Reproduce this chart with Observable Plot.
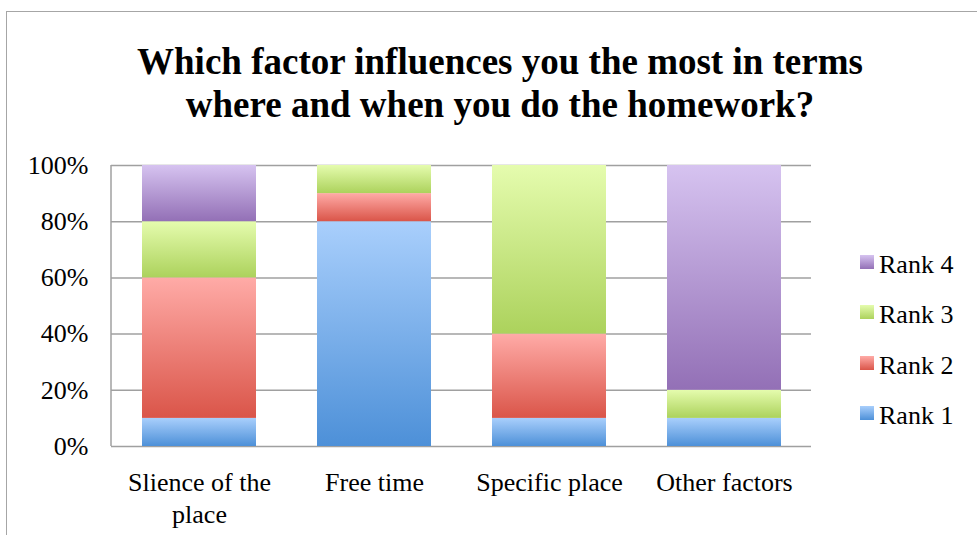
<!DOCTYPE html>
<html>
<head>
<meta charset="utf-8">
<script src="https://cdn.jsdelivr.net/npm/d3@7"></script>
<script src="https://cdn.jsdelivr.net/npm/@observablehq/plot@0.6"></script>
<style>
  html, body { margin: 0; padding: 0; background: #fff; overflow: hidden; }
  #wrap { position: relative; width: 977px; height: 535px; font-family: "Liberation Serif", Tinos, "Times New Roman", Times, "Nimbus Roman", "DejaVu Serif", serif; color: #000; }
  #border { position: absolute; left: 6px; top: 11px; width: 2000px; height: 2000px; border-left: 1.5px solid #a6a6a6; border-top: 1.5px solid #a6a6a6; }
  #title { position: absolute; left: 23px; width: 954px; top: 40px; text-align: center; font-weight: bold; font-size: 37px; line-height: 43px; }
  #chart { position: absolute; left: 0; top: 0; }
  #chart svg text { font-family: "Liberation Serif", Tinos, "Times New Roman", Times, "Nimbus Roman", "DejaVu Serif", serif; }
  .sw { position: absolute; width: 14px; height: 14px; left: 860px; }
  .lt { position: absolute; left: 879px; font-size: 26px; line-height: 26px; white-space: nowrap; }
  #defs { position: absolute; width: 0; height: 0; }
</style>
</head>
<body>
<div id="wrap">
  <svg id="defs" width="0" height="0">
    <defs>
      <linearGradient id="g1" x1="0" y1="0" x2="0" y2="1"><stop offset="0" stop-color="#a9cffc"/><stop offset="1" stop-color="#4d90d8"/></linearGradient>
      <linearGradient id="g2" x1="0" y1="0" x2="0" y2="1"><stop offset="0" stop-color="#ffaba7"/><stop offset="1" stop-color="#da5549"/></linearGradient>
      <linearGradient id="g3" x1="0" y1="0" x2="0" y2="1"><stop offset="0" stop-color="#e5fcae"/><stop offset="1" stop-color="#acd25c"/></linearGradient>
      <linearGradient id="g4" x1="0" y1="0" x2="0" y2="1"><stop offset="0" stop-color="#d6c3f0"/><stop offset="1" stop-color="#9370b6"/></linearGradient>
    </defs>
  </svg>
  <div id="border"></div>
  <div id="chart"></div>
  <div id="title">Which factor influences you the most in terms<br>where and when you do the homework?</div>
  <div id="legend"></div>
</div>
<script>
const categories = ["Slience of the place", "Free time", "Specific place", "Other factors"];
const categoryLabels = ["Slience of the\nplace", "Free time", "Specific place", "Other factors"];
const ranks = ["Rank 1", "Rank 2", "Rank 3", "Rank 4"];
const rank1 = [10, 80, 10, 10];
const rank2 = [50, 10, 30, 0];
const rank3 = [20, 10, 60, 10];
const rank4 = [20, 0, 0, 80];
const yTicks = [0, 20, 40, 60, 80, 100];
const fills = ["url(#g1)", "url(#g2)", "url(#g3)", "url(#g4)"];

const series = [rank1, rank2, rank3, rank4];
const data = [];
ranks.forEach((r, i) => categories.forEach((c, j) => data.push({category: c, rank: r, value: series[i][j]})));

const leftLine = (index, scales, values, dims) => {
  const g = document.createElementNS("http://www.w3.org/2000/svg", "line");
  g.setAttribute("x1", dims.marginLeft);
  g.setAttribute("x2", dims.marginLeft);
  g.setAttribute("y1", dims.marginTop);
  g.setAttribute("y2", dims.height - dims.marginBottom);
  g.setAttribute("stroke", "#a0a0a0");
  g.setAttribute("stroke-width", 1.5);
  return g;
};

const chart = Plot.plot({
  width: 977,
  height: 535,
  marginLeft: 111,
  marginRight: 166,
  marginTop: 165,
  marginBottom: 89,
  style: {fontFamily: "'Liberation Serif', Tinos, 'Times New Roman', Times, 'DejaVu Serif', serif", fontSize: "26px", color: "#000", background: "transparent", overflow: "visible"},
  x: {domain: categories, paddingInner: 0.35, paddingOuter: 0.175, label: null},
  y: {domain: [0, 100], label: null},
  color: {domain: ranks, range: fills},
  marks: [
    Plot.ruleY(yTicks, {stroke: "#a0a0a0", strokeWidth: 1.5}),
    leftLine,
    Plot.barY(data, Plot.stackY({x: "category", y: "value", fill: "rank", inset: 0, order: null,
      style: "filter: drop-shadow(1px 0px 2px rgba(0,0,0,0.25))"})),
    Plot.axisY({ticks: yTicks, tickFormat: d => d + "%", tickSize: 0, tickPadding: 23, fontSize: 26, label: null}),
    Plot.axisX({tickSize: 0, tickPadding: 22, fontSize: 26, lineHeight: 1.23, label: null,
      tickFormat: d => categoryLabels[categories.indexOf(d)]})
  ]
});
document.getElementById("chart").appendChild(chart);

const legendTops = {"Rank 4": 255, "Rank 3": 305, "Rank 2": 356, "Rank 1": 406};
const legend = document.getElementById("legend");
ranks.slice().reverse().forEach(r => {
  const i = ranks.indexOf(r);
  const sw = document.createElement("div");
  sw.className = "sw";
  sw.style.top = legendTops[r] + "px";
  const stops = document.querySelectorAll("#g" + (i + 1) + " stop");
  sw.style.background = `linear-gradient(${stops[0].getAttribute("stop-color")}, ${stops[1].getAttribute("stop-color")})`;
  legend.appendChild(sw);
  const t = document.createElement("div");
  t.className = "lt";
  t.style.top = (legendTops[r] - 3) + "px";
  t.textContent = r;
  legend.appendChild(t);
});
</script>
</body>
</html>
